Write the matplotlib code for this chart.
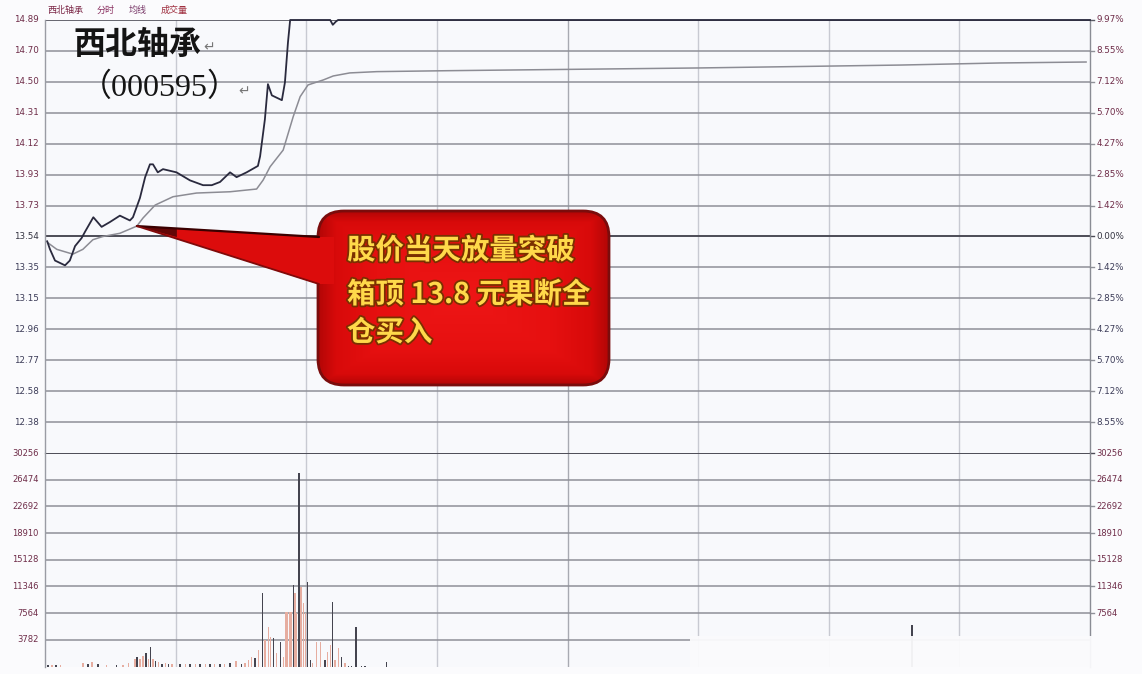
import numpy as np
import matplotlib
matplotlib.use('Agg')
import matplotlib.pyplot as plt
from matplotlib.patches import FancyBboxPatch, Polygon, Rectangle
from matplotlib.colors import LinearSegmentedColormap
import matplotlib.patheffects as pe

plt.rcParams['font.family'] = ['Noto Sans CJK SC', 'DejaVu Sans']

# ---------------- data ----------------
STOCK_NAME = '西北轴承'
STOCK_CODE = '（000595）'
HEADER = ['西北轴承', '分时', '均线', '成交量']
PREV_CLOSE = 13.54
LIMIT_PCT = 9.97

PRICE_LABELS = ['14.89', '14.70', '14.50', '14.31', '14.12', '13.93', '13.73',
                '13.54', '13.35', '13.15', '12.96', '12.77', '12.58', '12.38']
PCT_LABELS = ['9.97%', '8.55%', '7.12%', '5.70%', '4.27%', '2.85%', '1.42%',
              '0.00%', '1.42%', '2.85%', '4.27%', '5.70%', '7.12%', '8.55%']
VOL_LABELS_LEFT = ['30256', '26474', '22692', '18910', '15128', '11346', '7564', '3782']
VOL_LABELS_RIGHT = ['30256', '26474', '22692', '18910', '15128', '11346', '7564']
VOL_STEP = 3782

# minutes after 9:30 (240 trading minutes)
price_t = [0.5, 1.15, 2.3, 4.6, 5.7, 6.9, 8.4, 9.2, 11.1, 13.0, 14.9, 17.2, 19.5, 20.2,
           21.8, 23.0, 24.1, 24.8, 25.9, 27.1, 30.2, 33.3, 36.3, 38.3, 40.2, 42.5,
           44.0, 46.3, 48.9, 49.4, 50.5, 51.2, 52.1, 54.4, 55.1, 55.8, 56.3, 65.5,
           66.1, 66.8, 67.3, 240]
price_v = [13.51, 13.46, 13.39, 13.36, 13.39, 13.48, 13.53, 13.57, 13.66, 13.60, 13.63,
           13.67, 13.64, 13.66, 13.78, 13.91, 13.99, 13.99, 13.94, 13.96, 13.94, 13.89,
           13.86, 13.86, 13.88, 13.94, 13.91, 13.94, 13.98, 14.04, 14.27, 14.49, 14.42,
           14.39, 14.50, 14.75, 14.89, 14.89, 14.86, 14.88, 14.89, 14.89]

avg_t = [0.7, 2.7, 6.4, 8.7, 11.0, 13.3, 17.2, 21.1, 22.5, 25.3, 29.4, 34.8, 42.5,
         48.6, 50.1, 51.7, 54.7, 57.0, 58.6, 60.4, 63.9, 66.2, 70.0, 76.2, 93.0,
         150.4, 196.4, 219.3, 239.1]
avg_v = [13.50, 13.46, 13.43, 13.46, 13.52, 13.54, 13.56, 13.605, 13.655, 13.736, 13.788,
         13.811, 13.819, 13.836, 13.892, 13.975, 14.079, 14.287, 14.412, 14.485, 14.516,
         14.541, 14.560, 14.568, 14.574, 14.591, 14.609, 14.622, 14.628]

vol_t = [0.7, 1.6, 2.5, 3.5, 8.7, 9.9, 10.8, 12.2, 14.2, 16.5, 17.9, 19.1, 20.7, 21.1,
         21.8, 22.5, 23.2, 23.7, 24.3, 24.8, 25.3, 26.0, 26.9, 27.6, 28.3, 29.2, 31.0,
         32.2, 33.3, 34.5, 35.6, 36.8, 37.9, 39.0, 40.2, 41.3, 42.5, 43.9, 45.2, 45.9,
         46.7, 47.5, 48.2, 49.0, 50.0, 50.5, 51.3, 51.8, 52.4, 53.2, 54.1, 54.7, 55.35,
         55.75, 56.25, 56.65, 57.0, 57.4, 57.8, 58.35, 58.8, 59.3, 59.9, 60.35, 60.9,
         61.5, 62.4, 63.2, 64.3, 64.9, 65.5, 66.1, 66.6, 67.4, 68.1, 68.9, 69.7, 70.4,
         71.4, 72.7, 73.5, 78.5, 199.1]
vol_v = [200, 150, 150, 150, 450, 400, 600, 400, 250, 150, 150, 500, 1000, 1300,
         1100, 1500, 1900, 1100, 2800, 1000, 800, 600, 400, 500, 400, 400, 300,
         400, 300, 400, 400, 400, 300, 350, 400, 300, 500, 800, 350, 450,
         900, 1400, 1150, 2300, 10370, 3750, 5640, 4220, 4000, 1870, 3510, 1390, 7760,
         7760, 7760, 7760, 11550, 10370, 7580, 27460, 11310, 8960, 7540, 12020, 920,
         450, 3510, 3510, 920, 2100, 3050, 9180, 920, 2580, 1390, 450, 100, 100,
         5640, 100, 80, 680, 5880]
vol_up = [0, 1, 0, 1, 1, 0, 1, 0, 1, 0, 1, 1, 1, 0,
          1, 1, 0, 1, 0, 1, 0, 1, 0, 1, 0, 1, 0,
          1, 0, 1, 0, 1, 0, 1, 0, 1, 0, 1, 0, 1,
          1, 1, 0, 1, 0, 1, 1, 1, 0, 1, 0, 1, 1,
          1, 1, 1, 0, 1, 1, 0, 1, 1, 1, 0, 0,
          1, 1, 1, 0, 1, 1, 0, 1, 1, 0, 1, 0, 0,
          0, 0, 0, 0, 0]

ANNOT_LINES = ['股价当天放量突破', '箱顶 13.8 元果断全', '仓买入']
ANNOT_T, ANNOT_P = 21.1, 13.605

# ---------------- layout ----------------
W, H = 1142, 674
fig = plt.figure(figsize=(W / 100, H / 100), dpi=100)
BG = '#f8f9fc'
FIG_BG = '#fbfbfd'
fig.patch.set_facecolor(FIG_BG)

L, R = 45, 1090
P_TOP, P_BOT = 20, 453
V_BOT = 666.5

ax_p = fig.add_axes([L / W, 1 - P_BOT / H, (R - L) / W, (P_BOT - P_TOP) / H])
ax_v = fig.add_axes([L / W, 1 - V_BOT / H, (R - L) / W, (V_BOT - P_BOT) / H])

step = LIMIT_PCT / 7 / 100
p_lo = PREV_CLOSE * (1 - 7 * step)
p_hi = PREV_CLOSE * (1 + 7 * step)

GRID = '#8f9098'
VGRID = '#c8cad2'
LBL_UP = '#6e2c48'
LBL_DN = '#3c3c58'

for ax in (ax_p, ax_v):
    ax.set_facecolor(BG)
    ax.set_xlim(0, 240)
    ax.set_xticks([])
    ax.set_yticks([])
    for s in ('top', 'bottom'):
        ax.spines[s].set_visible(False)
    ax.spines['left'].set_color('#9a9ca4')
    ax.spines['right'].set_color('#8a8c94')
    ax.spines['left'].set_linewidth(1.0)
    ax.spines['right'].set_linewidth(1.0)
    for m in range(30, 240, 30):
        ax.axvline(m, color='#a8aab2' if m == 120 else VGRID, lw=1.0, zorder=0)

ax_p.set_ylim(p_lo, p_hi)
yt = ax_p.get_yaxis_transform()
for i, k in enumerate(range(7, -7, -1)):
    y = PREV_CLOSE * (1 + k * step)
    if k == 0:
        c, lw = '#4c4c56', 1.4
    elif k == 7:
        c, lw = '#5a5a64', 1.3
    else:
        c, lw = GRID, 1.1
    ax_p.axhline(y, color=c, lw=lw, zorder=1)
    ax_p.plot([1.0, 1.004], [y, y], transform=yt, color=c, lw=1.0, clip_on=False)
    col = LBL_UP if k > 0 else ('#333340' if k == 0 else LBL_DN)
    ax_p.text(-0.006, y, PRICE_LABELS[i], transform=yt, ha='right', va='center',
              fontsize=6.3, color=col, family=['DejaVu Sans'])
    ax_p.text(1.006, y, PCT_LABELS[i], transform=yt, ha='left', va='center',
              fontsize=6.3, color=col, family=['DejaVu Sans'])

ax_p.plot(avg_t, avg_v, color='#8c8c94', lw=1.1, zorder=3, clip_on=False)
ax_p.plot(price_t, price_v, color='#2a2a3e', lw=1.3, zorder=4, clip_on=False)

# volume
ax_v.set_ylim(0, 8 * VOL_STEP)
yv = ax_v.get_yaxis_transform()
for i in range(8):
    y = (8 - i) * VOL_STEP
    c = '#4c4c56' if i == 0 else GRID
    ax_v.axhline(y, color=c, lw=1.4 if i == 0 else 1.1, zorder=1)
    ax_v.text(-0.006, y, VOL_LABELS_LEFT[i], transform=yv, ha='right', va='center',
              fontsize=6.0, color=LBL_UP, family=['DejaVu Sans'])
    if i < len(VOL_LABELS_RIGHT):
        ax_v.plot([1.0, 1.004], [y, y], transform=yv, color=c, lw=1.0, clip_on=False)
        ax_v.text(1.006, y, VOL_LABELS_RIGHT[i], transform=yv, ha='left', va='center',
                  fontsize=6.0, color=LBL_UP, family=['DejaVu Sans'])

cols = ['#e6ada0' if u else '#44444f' for u in vol_up]
ax_v.bar(vol_t, vol_v, width=0.3, color=cols, linewidth=0, zorder=3)

# ---------------- overlay (text + callout) ----------------
ov = fig.add_axes([0, 0, 1, 1], zorder=10)
ov.set_xlim(0, W)
ov.set_ylim(H, 0)
ov.axis('off')
ov.patch.set_alpha(0)

# washed-out bottom right of the picture
ov.add_patch(Rectangle((690, 636), W - 690, H - 636, color=FIG_BG, alpha=0.95,
                       lw=0, zorder=1))

# header
hx = 47
hcols = ['#7a2545', '#8a3060', '#7a3a6a', '#a03040']
for txt, c in zip(HEADER, hcols):
    ov.text(hx, 10, txt, fontsize=6.5, color=c, ha='left', va='center')
    hx += len(txt) * 9 + 14

# stock name
ov.text(73, 45, STOCK_NAME, fontsize=23, fontweight='bold', color='#141414',
        ha='left', va='center')
ov.text(203, 47, '↵', fontsize=10, color='#777777', ha='left', va='center',
        family=['DejaVu Sans'])
ov.text(80, 88, STOCK_CODE, fontsize=23, color='#141414', ha='left', va='center',
        family=['Liberation Serif', 'Noto Sans CJK SC'])
ov.text(238, 91, '↵', fontsize=10, color='#777777', ha='left', va='center',
        family=['DejaVu Sans'])

# callout box
bx0, by0, bx1, by1, rr = 318, 211, 609, 385, 26
style = f'round,pad={rr},rounding_size={rr}'
box = FancyBboxPatch((bx0 + rr, by0 + rr), (bx1 - bx0) - 2 * rr, (by1 - by0) - 2 * rr,
                     boxstyle=style, facecolor='#e10d0d', edgecolor='none', zorder=5)
ov.add_patch(box)
gx = np.linspace(-1, 1, 300)
gy = np.linspace(-1, 1, 180)
GX, GY = np.meshgrid(gx, gy)
rad = np.clip(np.maximum(np.abs(GX) ** 6, np.abs(GY) ** 6) ** (1 / 6), 0, 1)
cmap = LinearSegmentedColormap.from_list(
    'rd', [(0, '#ee1616'), (0.6, '#e61010'), (0.88, '#d80a0a'), (1.0, '#b30606')])
im = ov.imshow(rad, extent=(bx0, bx1, by1, by0), cmap=cmap, aspect='auto',
               zorder=5.5, interpolation='bilinear', vmin=0, vmax=1)
im.set_clip_path(box)
ov.set_xlim(0, W)
ov.set_ylim(H, 0)
ov.add_patch(FancyBboxPatch((bx0 + rr, by0 + rr), (bx1 - bx0) - 2 * rr, (by1 - by0) - 2 * rr,
                            boxstyle=style, facecolor='none', edgecolor='#7a0c0c',
                            lw=2.0, zorder=6))

# pointer wedge, tip at the data location
tip_disp = ax_p.transData.transform((ANNOT_T, ANNOT_P))
tx, ty = ov.transData.inverted().transform(tip_disp)
wy0, wy1 = 237, 284
ov.add_patch(Polygon([(tx, ty), (bx0, wy0), (bx0 + 16, wy0), (bx0 + 16, wy1), (bx0, wy1)],
                     closed=True, facecolor='#dc0c0c', edgecolor='none', zorder=6.5))
ov.add_patch(Polygon([(tx, ty), (tx + 40, ty + 2.2), (tx + 40, ty + 11)], closed=True,
                     facecolor='#3a0404', edgecolor='none', alpha=0.75, zorder=6.6))
ov.plot([tx, bx0 + 1], [ty, wy0], color='#3a0000', lw=1.6, zorder=6.7,
        solid_capstyle='round')
ov.plot([tx, bx0 + 1], [ty, wy1], color='#800a0a', lw=1.3, zorder=6.7,
        solid_capstyle='round')

# callout text
line_y = [251, 295, 333]
for s, yy in zip(ANNOT_LINES, line_y):
    ov.text(347, yy, s, fontsize=20.5, fontweight='bold', color='#ffd94a',
            ha='left', va='center', zorder=8,
            path_effects=[pe.withStroke(linewidth=2.6, foreground='#7a3000')])

fig.savefig('out.png', dpi=100, facecolor=fig.get_facecolor())
